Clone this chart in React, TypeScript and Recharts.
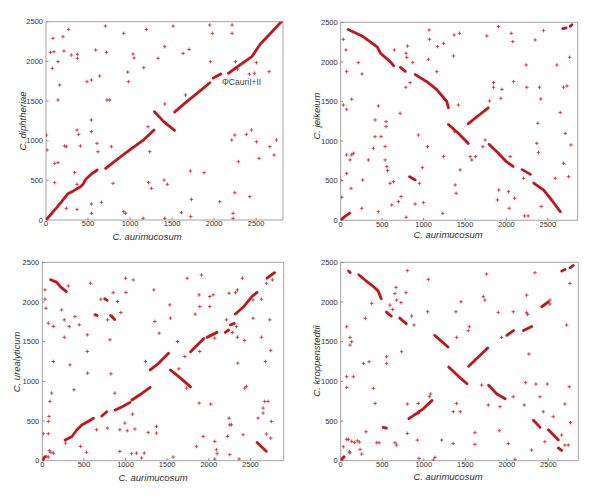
import { ScatterChart, Scatter, XAxis, YAxis, ReferenceArea, ReferenceDot } from 'recharts';

const LINE_RED = '#c0161c';
const CROSS_RED = '#c83838';
const FRAME = '#8c8c8c';
const TEXT = '#333333';
const FONT = '"Liberation Sans", Arial, sans-serif';

const xTicks = [0, 500, 1000, 1500, 2000, 2500];
const yTicks = [0, 500, 1000, 1500, 2000, 2500];
const xTitle = 'C. aurimucosum';
const yTitles = ['C. diphtheriae', 'C. jeikeium', 'C. urealyticum', 'C. kroppenstedtii'];
const xLimits = [2820, 2860, 2900, 2860];
const yLimit = 2500;
const prophageNote = 'ΦCauriI+II';
const prophageAt = [2035, 1740];

type Pt = [number, number];

// syntenic runs (drawn as thick lines), one list per comparison
const p1Segments: Pt[][] = [
  [[0, 0], [130, 160], [260, 330], [330, 370], [410, 420], [440, 450], [470, 510], [540, 580], [610, 630]],
  [[710, 650], [890, 800], [1050, 925], [1150, 1000], [1286, 1135]],
  [[1290, 1366], [1400, 1240], [1530, 1130]],
  [[1530, 1360], [1650, 1470], [1800, 1600], [1950, 1730]],
  [[1990, 1790], [2080, 1840]],
  [[2170, 1850], [2300, 1950], [2450, 2060], [2550, 2220], [2650, 2330], [2800, 2500]],
];
const p1Crosses: Pt[] = [
  [83, 2290], [95, 2122], [56, 2113], [75, 1912], [143, 1996], [163, 1702], [143, 1513], [202, 2311],
  [214, 2130], [270, 2403], [302, 2080], [373, 2038], [373, 2088], [488, 1744], [540, 1765], [591, 2143],
  [639, 1815], [706, 2445], [718, 2113], [726, 1513], [925, 2353], [972, 1865], [980, 1744], [1036, 2092],
  [1048, 2042], [1163, 1920], [1194, 2403], [1333, 2038], [1413, 2185], [1512, 2445], [1631, 2101],
  [1702, 2151], [1660, 1576], [1413, 1462], [1948, 2458], [1956, 1996], [1980, 2353], [2214, 2458],
  [2214, 2353], [2254, 1996], [2278, 1903], [2420, 1840], [2480, 1850], [2655, 1870], [2504, 1983],
  [4, 1071], [12, 882], [103, 714], [143, 723], [103, 471], [222, 933], [242, 924], [341, 597],
  [369, 1134], [389, 1080], [409, 933], [369, 450], [369, 134], [242, 147], [540, 1261], [540, 1113],
  [540, 202], [540, 84], [607, 966], [619, 861], [659, 223], [778, 924], [798, 462], [758, 1513],
  [1214, 1176], [1222, 471], [1234, 861], [1254, 399], [925, 105], [948, 84], [1155, 21], [1405, 504],
  [1413, 21], [1444, 450], [1611, 92], [1718, 618], [1730, 260], [1722, 42], [1881, 597], [2067, 231],
  [2210, 1008], [2246, 1071], [2226, 84], [2226, 21], [2246, 344], [2290, 735], [2385, 1080],
  [2444, 1134], [2425, 294], [2504, 987], [2535, 777], [2663, 924], [2742, 1008], [2714, 819],
];

const p2Segments: Pt[][] = [
  [[0, 0], [40, 40], [110, 90]],
  [[90, 2410], [270, 2320], [440, 2190], [480, 2110], [600, 2000], [640, 1950]],
  [[720, 1930], [780, 1880]],
  [[830, 550], [900, 510]],
  [[900, 1840], [1040, 1750], [1160, 1650], [1280, 1500], [1300, 1420]],
  [[1300, 1210], [1420, 1100], [1540, 970]],
  [[1540, 1220], [1660, 1320], [1780, 1420]],
  [[1790, 960], [1900, 850], [2000, 740], [2080, 680]],
  [[2190, 640], [2290, 580]],
  [[2330, 470], [2450, 380], [2550, 250], [2650, 110]],
  [[2680, 2420], [2720, 2430]],
  [[2770, 2450], [2790, 2470]],
];
const p2Crosses: Pt[] = [
  [32, 2285], [72, 1877], [64, 2151], [32, 1456], [72, 1402], [133, 1528], [12, 290], [0, 509],
  [72, 825], [72, 593], [125, 404], [133, 825], [153, 846], [113, 762], [266, 509], [254, 151],
  [213, 1991], [258, 1848], [334, 762], [395, 909], [415, 1056], [415, 1267], [455, 1444], [455, 109],
  [487, 1056], [536, 930], [548, 1246], [548, 1183], [536, 762], [556, 678], [564, 627], [596, 467],
  [616, 194], [636, 488], [648, 2151], [697, 236], [729, 299], [717, 1351], [789, 2109], [797, 2058],
  [805, 2201], [785, 1680], [789, 38], [838, 1738], [870, 1991], [898, 206], [950, 467], [938, 1077],
  [986, 665], [998, 223], [1067, 2403], [1059, 2033], [1071, 2285], [1047, 930], [1168, 2193],
  [1160, 1877], [1240, 2235], [1240, 804], [1232, 88], [1369, 2340], [1361, 2075], [1373, 1120],
  [1381, 446], [1393, 341], [1421, 1456], [1433, 2361], [1441, 636], [1562, 804], [1582, 762],
  [1627, 804], [1715, 930], [1743, 1014], [1763, 2328], [1796, 1507], [1844, 1680], [1844, 1738],
  [1904, 2445], [1945, 1654], [1933, 1540], [1908, 383], [1892, 257], [2025, 362], [2033, 152],
  [2045, 804], [2057, 2361], [2077, 2256], [2085, 1751], [2098, 278], [2206, 530], [2218, 55],
  [2262, 55], [2238, 1961], [2246, 1680], [2347, 2277], [2367, 972], [2379, 1225], [2387, 855],
  [2399, 1680], [2415, 1532], [2448, 2395], [2419, 173], [2609, 1961], [2589, 530], [2649, 1360],
  [2689, 1680], [2730, 1696], [2709, 1098], [2750, 551], [2762, 2058], [2778, 951], [2689, 720],
];

const p3Segments: Pt[][] = [
  [[0, 0], [30, 50]],
  [[100, 2280], [170, 2250], [230, 2180], [290, 2130]],
  [[273, 261], [354, 302], [414, 387], [474, 450], [560, 500], [614, 534]],
  [[715, 563], [775, 617]],
  [[875, 639], [960, 680], [1055, 735]],
  [[1076, 765], [1200, 850], [1296, 924]],
  [[1296, 1144], [1400, 1230], [1517, 1353]],
  [[1540, 1143], [1650, 1050], [1781, 930]],
  [[1781, 1372], [1941, 1541]],
  [[1979, 1554], [2099, 1617]],
  [[2199, 1617], [2239, 1647]],
  [[2259, 1710], [2307, 1730]],
  [[2319, 1848], [2420, 1940], [2520, 2070], [2580, 2121]],
  [[2700, 2300], [2790, 2370]],
  [[2580, 230], [2640, 170], [2690, 120]],
  [[820, 1830], [870, 1780]],
  [[640, 1840], [660, 1830]],
  [[750, 2040], [780, 2020]],
];
const p3Crosses: Pt[] = [
  [52, 55], [84, 126], [104, 105], [132, 96], [32, 2152], [32, 2035], [44, 1921], [72, 1733], [72, 340],
  [12, 340], [72, 495], [80, 558], [92, 747], [112, 852], [72, 46], [132, 1691], [132, 1250], [232, 1900],
  [264, 1775], [264, 1556], [280, 222], [312, 2202], [324, 1691], [332, 1208], [380, 894], [392, 1816],
  [444, 1712], [460, 180], [540, 1586], [540, 1376], [544, 1103], [532, 105], [580, 2236], [632, 1837],
  [652, 390], [704, 2035], [780, 411], [784, 1775], [812, 1523], [824, 1095], [844, 1816], [852, 2118],
  [872, 852], [904, 2005], [944, 1867], [932, 390], [932, 117], [992, 474], [1000, 2299], [1004, 2118],
  [1020, 378], [1092, 2278], [1084, 587], [1112, 399], [1072, 88], [1132, 96], [1192, 34], [1224, 96],
  [1240, 1250], [1272, 357], [1340, 2152], [1352, 1754], [1372, 432], [1372, 348], [1404, 1607],
  [1532, 1963], [1540, 1796], [1572, 46], [1624, 1502], [1640, 1158], [1712, 1313], [1740, 2299],
  [1732, 915], [1836, 1846], [1852, 180], [1884, 2089], [1892, 1942], [1892, 1376], [1884, 726],
  [1912, 2341], [1932, 306], [2012, 1942], [2012, 2068], [2012, 1573], [2024, 713], [2052, 2089],
  [2072, 1544], [2072, 243], [2072, 21], [2092, 138], [2100, 88], [2212, 1775], [2224, 306], [2244, 2110],
  [2244, 537], [2252, 453], [2272, 453], [2252, 76], [2284, 1615], [2320, 2118], [2332, 1691],
  [2344, 2152], [2344, 1556], [2348, 1229], [2364, 21], [2404, 2299], [2412, 327], [2432, 1514],
  [2432, 915], [2452, 936], [2532, 1796], [2532, 2026], [2592, 537], [2632, 1556], [2632, 2035],
  [2652, 663], [2652, 600], [2672, 747], [2680, 1250], [2692, 2236], [2692, 336], [2712, 747],
  [2732, 1775], [2744, 285], [2744, 1389], [2752, 495], [2764, 2278],
];

const p4Segments: Pt[][] = [
  [[0, 0], [40, 50]],
  [[95, 2390], [115, 2370]],
  [[217, 2343], [300, 2270], [400, 2190], [450, 2140], [489, 2040]],
  [[549, 1873], [609, 1822]],
  [[710, 1797], [790, 1726]],
  [[510, 420], [550, 410]],
  [[820, 530], [920, 600], [1000, 660], [1100, 760]],
  [[1131, 1579], [1292, 1432]],
  [[1300, 1180], [1420, 1060], [1520, 970]],
  [[1540, 1190], [1650, 1300], [1770, 1420]],
  [[1780, 950], [1880, 840], [1980, 780]],
  [[2000, 1580], [2080, 1640]],
  [[2200, 1640], [2300, 1690]],
  [[2420, 1940], [2500, 2000]],
  [[2320, 510], [2400, 420]],
  [[2500, 390], [2620, 260]],
  [[2620, 160], [2660, 130]],
  [[2660, 2390], [2700, 2410]],
  [[2760, 2430], [2800, 2460]],
];
const p4Crosses: Pt[] = [
  [32, 176], [72, 269], [92, 269], [104, 113], [112, 100], [72, 1058], [72, 924], [112, 1554], [112, 1457],
  [132, 1499], [152, 1058], [72, 1688], [132, 245], [165, 230], [200, 250], [225, 235], [233, 143],
  [253, 84], [305, 365], [273, 1226], [297, 1793], [341, 1247], [373, 1982], [393, 911], [413, 722],
  [433, 227], [461, 227], [553, 1310], [553, 1226], [593, 1961], [625, 1906], [653, 227], [673, 197],
  [673, 2024], [653, 2108], [665, 2184], [726, 1991], [734, 1373], [786, 2117], [802, 2394], [802, 714],
  [802, 344], [854, 1823], [882, 1709], [922, 260], [934, 722], [934, 596], [942, 29], [1055, 2285],
  [1047, 1877], [1067, 806], [1083, 840], [1115, 8], [1135, 42], [1215, 260], [1355, 218], [1355, 617],
  [1387, 1877], [1395, 1554], [1395, 722], [1448, 2003], [1440, 617], [1536, 1638], [1548, 1688],
  [1616, 353], [1616, 206], [1696, 953], [1716, 2066], [1736, 2024], [1756, 2352], [1776, 701],
  [1897, 1869], [1909, 378], [1917, 680], [1937, 1554], [2017, 218], [2077, 806], [2077, 1877],
  [2098, 17], [2209, 701], [2226, 983], [2238, 2087], [2238, 1865], [2250, 1844], [2266, 1344],
  [2298, 134], [2338, 2369], [2350, 966], [2398, 806], [2438, 617], [2458, 239], [2486, 966],
  [2518, 1974], [2518, 2024], [2558, 554], [2659, 323], [2699, 197], [2699, 714], [2719, 1709],
  [2739, 197], [2751, 932], [2759, 2234], [2767, 479],
];

const segmentSets = [p1Segments, p2Segments, p3Segments, p4Segments];
const crossSets = [p1Crosses, p2Crosses, p3Crosses, p4Crosses];

// where each panel sits on the page and where its plot box lands inside it
const layouts = [
  { left: 0, top: 0, plot: { l: 46, t: 21.7, r: 283, b: 220 }, yT: [23, 121], xT: [147, 237] },
  { left: 300, top: 0, plot: { l: 40.7, t: 22.3, r: 277.7, b: 220.3 }, yT: [17, 116], xT: [148, 235] },
  { left: 0, top: 250, plot: { l: 42.3, t: 12.3, r: 283.7, b: 210.7 }, yT: [17, 112], xT: [153, 227.5] },
  { left: 300, top: 250, plot: { l: 40.7, t: 12.3, r: 278.3, b: 210.7 }, yT: [17, 111], xT: [148, 227] },
];

const W = 300;
const H = 250;
const Y_AXIS_W = 34;
const X_AXIS_H = 20;

const toPts = (arr: Pt[]) => arr.map(([x, y]) => ({ x, y }));

const Cross = (props: any) => {
  const { cx, cy } = props;
  if (cx == null || cy == null) return <g />;
  return (
    <path
      d={`M${cx - 1.8},${cy}H${cx + 1.8}M${cx},${cy - 1.8}V${cy + 1.8}`}
      stroke={CROSS_RED}
      strokeWidth={0.9}
      fill="none"
    />
  );
};

const NoDot = () => <g />;

const tickStyle = { fontSize: 7.5, fill: TEXT, fontFamily: FONT };

function Panel({ idx }: { idx: number }) {
  const lay = layouts[idx];
  const xMax = xLimits[idx];
  const { l, t, r, b } = lay.plot;
  return (
    <div style={{ position: 'absolute', left: lay.left, top: lay.top, width: W, height: H }}>
      <ScatterChart
        width={W}
        height={H}
        margin={{ top: t, left: l - Y_AXIS_W, right: W - r, bottom: H - b - X_AXIS_H }}
      >
        <XAxis
          type="number"
          dataKey="x"
          domain={[0, xMax]}
          ticks={xTicks}
          allowDataOverflow
          height={X_AXIS_H}
          axisLine={false}
          tickSize={-2.5}
          tickMargin={3.5}
          tickLine={{ stroke: FRAME }}
          tick={tickStyle}
        />
        <XAxis
          xAxisId="top"
          orientation="top"
          type="number"
          domain={[0, xMax]}
          ticks={xTicks}
          allowDataOverflow
          height={0}
          axisLine={false}
          tickSize={-2.5}
          tickLine={{ stroke: FRAME }}
          tickFormatter={() => ''}
        />
        <YAxis
          type="number"
          dataKey="y"
          domain={[0, yLimit]}
          ticks={yTicks}
          allowDataOverflow
          width={Y_AXIS_W}
          axisLine={false}
          tickSize={-2.5}
          tickMargin={5.5}
          tickLine={{ stroke: FRAME }}
          tick={tickStyle}
        />
        <YAxis
          yAxisId="right"
          orientation="right"
          type="number"
          domain={[0, yLimit]}
          ticks={yTicks}
          allowDataOverflow
          width={0}
          axisLine={false}
          tickSize={-2.5}
          tickLine={{ stroke: FRAME }}
          tickFormatter={() => ''}
        />
        <ReferenceArea x1={0} x2={xMax} y1={0} y2={yLimit} fill="none" stroke={FRAME} strokeWidth={0.8} />
        <Scatter
          data={toPts(crossSets[idx])}
          shape={Cross}
          isAnimationActive={false}
        />
        {segmentSets[idx].map((seg, i) => (
          <Scatter
            key={i}
            data={toPts(seg)}
            shape={NoDot}
            line={{ stroke: LINE_RED, strokeWidth: 2.8, strokeLinecap: 'round', strokeLinejoin: 'round' }}
            lineType="joint"
            isAnimationActive={false}
          />
        ))}
        {idx === 0 && (
          <ReferenceDot
            x={prophageAt[0]}
            y={prophageAt[1]}
            r={0.01}
            fill="none"
            stroke="none"
            label={{
              value: prophageNote,
              position: 'right',
              fontSize: 8.5,
              fill: '#444',
              fontFamily: FONT,
            }}
          />
        )}
      </ScatterChart>
      <div
        style={{
          position: 'absolute',
          left: lay.yT[0],
          top: lay.yT[1],
          transform: 'translate(-50%, -50%) rotate(-90deg)',
          whiteSpace: 'nowrap',
          fontFamily: FONT,
          fontStyle: 'italic',
          fontSize: 9.5,
          color: TEXT,
          lineHeight: 1,
        }}
      >
        {yTitles[idx]}
      </div>
      <div
        style={{
          position: 'absolute',
          left: lay.xT[0],
          top: lay.xT[1],
          transform: 'translate(-50%, -50%)',
          whiteSpace: 'nowrap',
          fontFamily: FONT,
          fontStyle: 'italic',
          fontSize: 9.5,
          color: TEXT,
          lineHeight: 1,
        }}
      >
        {xTitle}
      </div>
    </div>
  );
}

export default function App() {
  return (
    <div style={{ position: 'absolute', left: 0, top: 0, width: 600, height: 501, background: '#fff' }}>
      {[0, 1, 2, 3].map((i) => (
        <Panel key={i} idx={i} />
      ))}
    </div>
  );
}
